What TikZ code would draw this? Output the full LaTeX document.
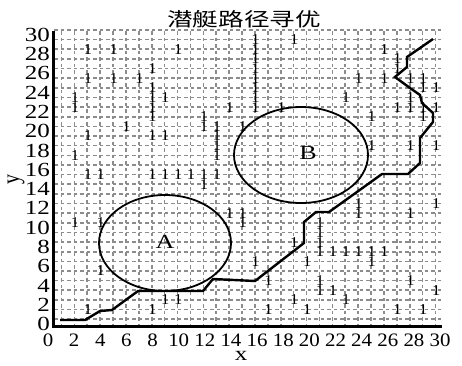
\documentclass[tikz,border=0pt]{standalone}
\usepackage{fontspec}
\setmainfont{Liberation Serif}
\newfontfamily\cjkfont{Noto Sans CJK SC}
\begin{document}
\begin{tikzpicture}[x=1pt,y=-1pt,
  gridline/.style={draw=black!45, line width=1.6pt, dash pattern=on 3.5pt off 3pt},
  axisline/.style={draw=black, line width=3pt},
  ticklab/.style={font=\fontsize{20}{20}\selectfont, xscale=1.25, inner sep=0pt},
  xticklab/.style={font=\fontsize{19}{19}\selectfont, xscale=1.1, inner sep=0pt},
  onemark/.style={font=\fontsize{15}{15}\selectfont, xscale=1.1, inner sep=0pt},
  region/.style={draw=black, line width=1.8pt},
  route/.style={draw=black, line width=2.4pt, line join=miter},
  reglab/.style={font=\fontsize{20}{20}\selectfont, xscale=1.3, inner sep=0pt}]
\useasboundingbox (0,0) rectangle (462,365);
% grid
\foreach \k in {0,...,30}
  \draw[gridline] (54,{319.2-9.64*\k}) -- (441,{319.2-9.64*\k});
\foreach \n in {1,...,30}
  \draw[gridline] ({48.5+12.9*\n},31) -- ({48.5+12.9*\n},324);
% ones
\foreach \n/\k in {3/28,5/28,10/28,19/29,26/28,
  27/27,27/26,8/26,
  3/25,5/25,7/25,24/25,26/25,28/25,29/25,
  8/24,29/24,30/24,
  2/23,8/23,9/23,23/23,28/23,
  2/22,8/22,14/22,18/22,27/22,28/22,29/22,30/22,
  8/21,12/21,25/21,29/21,
  6/20,12/20,13/20,15/20,
  3/19,8/19,9/19,13/19,
  13/18,25/18,28/18,30/18,
  2/17,13/17,
  3/15,4/15,8/15,9/15,10/15,11/15,12/15,13/15,
  12/14,
  24/12,30/12,
  14/11,15/11,24/11,28/11,
  2/10,4/10,15/10,21/10,
  21/9,
  19/8,21/8,
  21/7,22/7,23/7,24/7,25/7,26/7,
  16/6,20/6,25/6,
  4/5,
  17/4,21/4,28/4,
  21/3,22/3,30/3,
  9/2,10/2,19/2,23/2,
  3/1,8/1,17/1,20/1,27/1,29/1,
  16/22,16/23,16/24,16/25,16/26,16/27,16/28,16/29}
  \node[onemark] at ({49.2+12.9*\n},{319.2-9.64*\k}) {1};
% regions
\draw[region] (165,243) ellipse [x radius=66, y radius=48];
\node[reglab] (labA) at (165,242) {A};
\draw[region] (301,155) ellipse [x radius=67, y radius=48];
\node[reglab] (labB) at (308,153) {B};
% route
\draw[route] (60,320) -- (85,320) -- (100,311) -- (112,310) -- (138,291)
  -- (203,291) -- (213,279) -- (255,281) -- (304,243) -- (304,222)
  -- (316,212) -- (329,212) -- (382,174) -- (408,174) -- (420,163)
  -- (420,138) -- (433,122) -- (433,113) -- (422,103) -- (420,95)
  -- (410,88) -- (395,77) -- (407,67) -- (407,57) -- (433,39);
% axes
\draw[axisline] (53,31) -- (53,326) -- (442,326);
\foreach \v in {0,2,...,30}
  \node[ticklab, anchor=east] at (50,{324-9.64*\v}) {\v};
\foreach \v in {0,2,...,30}
  \node[xticklab] at ({48+13.07*\v},340) {\v};
\node[ticklab] (xlab) at (241,356) {x};
\node[ticklab, rotate=90, xscale=1] (ylab) at (16,179) {y};
\node[font=\cjkfont\fontsize{19}{19}\selectfont, xscale=1.35, inner sep=0pt] (title) at (244,19) {潜艇路径寻优};
\end{tikzpicture}
\end{document}
